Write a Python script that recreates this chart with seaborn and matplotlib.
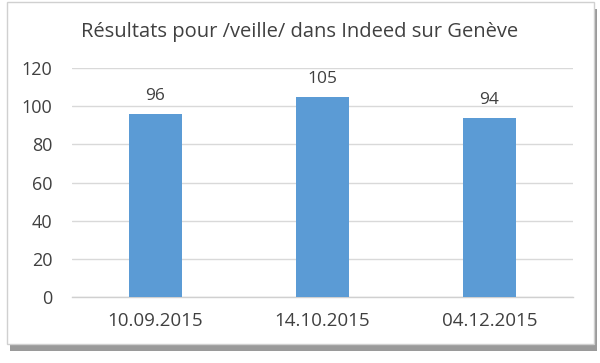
import matplotlib
matplotlib.use("Agg")
import matplotlib.pyplot as plt
import matplotlib.patheffects as pe
from matplotlib.patches import Rectangle
import seaborn as sns
import pandas as pd

categories = ["10.09.2015", "14.10.2015", "04.12.2015"]
values = [96, 105, 94]
yticks = [0, 20, 40, 60, 80, 100, 120]
title = "Résultats pour /veille/ dans Indeed sur Genève"

sns.set_theme(style="white")
plt.rcParams['font.family'] = ['Open Sans', 'DejaVu Sans']

txt = "#404040"
fig = plt.figure(figsize=(6.0, 3.63), dpi=100)
fig.patch.set_facecolor("white")

# chart frame with shadow
frame = Rectangle((7/600, 1-344/363), 587/600, 342/363, transform=fig.transFigure,
                  facecolor="white", edgecolor="#D0D0D0", linewidth=1.0, zorder=-5,
                  path_effects=[pe.SimplePatchShadow(offset=(2, -5), shadow_rgbFace="#6f6f6f", alpha=0.7), pe.Normal()])
fig.patches.append(frame)

ax = fig.add_axes([72/600, 1-297/363, (573-72)/600, (297-68)/363])
ax.set_zorder(2)
ax.set_facecolor("none")
df = pd.DataFrame({"date": categories, "val": values})
sns.barplot(data=df, x="date", y="val", color="#5B9BD5", saturation=1, width=0.32, ax=ax, zorder=3)
for b in ax.patches:
    b.set_edgecolor("none")
ax.set_ylim(0, 120)
ax.set_xlim(-0.5, 2.5)
ax.set_yticks(yticks)
ax.set_yticklabels([str(t) for t in yticks], fontsize=13, color=txt)
ax.yaxis.grid(True, color="#D9D9D9", linewidth=1.0, zorder=0)
ax.set_axisbelow(True)
for s in ["top", "right", "left"]:
    ax.spines[s].set_visible(False)
ax.spines["bottom"].set_color("#D0D0D0")
ax.spines["bottom"].set_linewidth(1.0)
ax.tick_params(axis="y", length=0, pad=14)
ax.set_xticks(range(len(categories)))
ax.set_xticklabels(categories, fontsize=13.5, color=txt)
ax.tick_params(axis="x", which="major", length=0, pad=11)
ax.set_xticks([-0.5, 0.5, 1.5, 2.5], minor=True)
ax.tick_params(axis="x", which="minor", length=5, color="#D0D0D0", width=1.0, direction="out")
ax.set_xlabel("")
ax.set_ylabel("")
ax.bar_label(ax.containers[0], labels=[str(v) for v in values], padding=7, fontsize=12.5, color=txt)

fig.text(0.5, 1-32/363, title, ha="center", va="center", fontsize=14.5, color=txt, zorder=3)

fig.savefig("out.png", dpi=100)
